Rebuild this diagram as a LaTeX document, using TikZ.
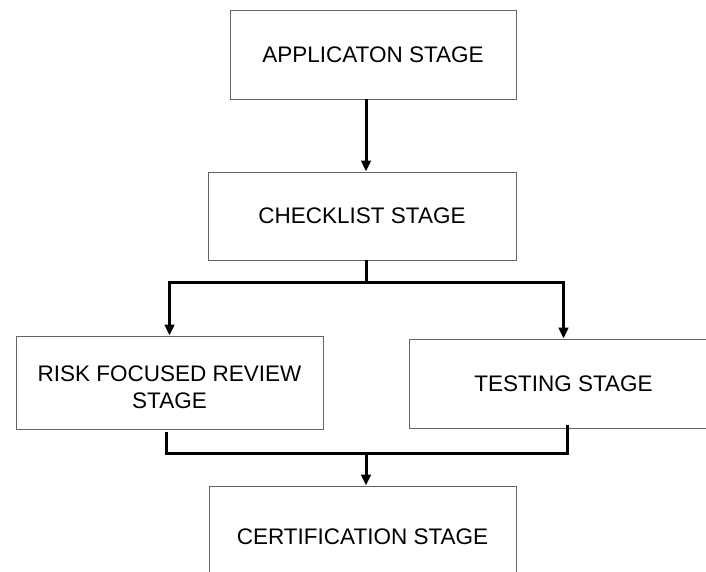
\documentclass[tikz,border=0pt]{standalone}
\usepackage{fontspec}
\setmainfont{Liberation Sans}
\usetikzlibrary{arrows.meta}
\definecolor{boxgray}{RGB}{100,100,100}
\begin{document}
\begin{tikzpicture}[x=1pt,y=1pt,
  stagebox/.style={draw=boxgray, line width=0.9pt, inner sep=0pt, align=center,
    font=\fontsize{22.5}{27}\selectfont},
  conn/.style={line width=3pt, black},
  arr/.style={conn, -{Triangle[width=9.5pt,length=11pt]}}]
\useasboundingbox (0,0) rectangle (706,571);
\clip (0,0) rectangle (706,571);
\fill[white] (0,0) rectangle (706,571);

\node[stagebox, minimum width=286pt, minimum height=89pt] (app) at (373,516.5) {APPLICATON STAGE};
\node[stagebox, minimum width=308pt, minimum height=88pt] (check) at (362,355) {CHECKLIST STAGE};
\node[stagebox, minimum width=307pt, minimum height=93pt] (risk) at (169.5,188.5)
  {\raisebox{-12pt}[0pt][0pt]{\begin{tabular}{@{}c@{}}RISK FOCUSED REVIEW\\STAGE\end{tabular}}};
\node[stagebox, minimum width=309pt, minimum height=89pt] (test) at (563.5,187.5) {TESTING STAGE};
\node[stagebox, minimum width=307pt, minimum height=102pt] (cert) at (362.5,34) {CERTIFICATION STAGE};

\coordinate (j1) at (366,289);
\coordinate (j2) at (366,118);

\draw[arr] ([xshift=4pt]check.north |- app.south) -- ([xshift=4pt]check.north);
\draw[conn] ([xshift=4pt]check.south) -- (j1);
\draw[arr] (j1) -| (risk.north);
\draw[arr] (j1) -| (test.north);
\draw[conn] ([xshift=-3.5pt,yshift=-3pt]risk.south) |- (j2) -| ([xshift=3.5pt,yshift=3pt]test.south);
\draw[arr] (j2) -- (j2 |- cert.north);
\end{tikzpicture}
\end{document}
